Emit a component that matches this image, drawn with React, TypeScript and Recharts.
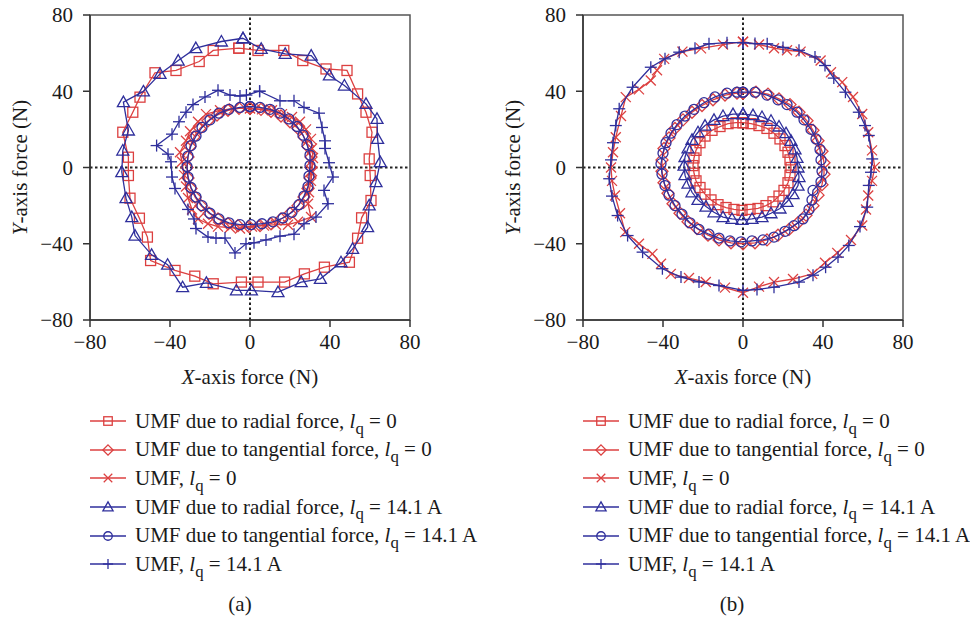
import React from "react";
import {
  ScatterChart,
  Scatter,
  XAxis,
  YAxis,
  ReferenceLine,
  ReferenceArea,
  Label,
} from "recharts";

const RED = "#dc4040";
const BLUE = "#2f2f9c";
const AXIS = "#333333";
const TEXT = "#1a1a1a";
const SERIF = "'Liberation Serif', 'Times New Roman', serif";
const FS = 21;

type P = { x: number; y: number };

const axisTicks = [-80, -40, 0, 40, 80];
const axisDomain: [number, number] = [-80, 80];

// ---- Panel (a) ----
const aRadial0: P[] = [
  { x: -5.6, y: 62.6 }, { x: 4.0, y: 61.4 }, { x: 16.9, y: 61.4 }, { x: 26.4, y: 56.1 },
  { x: 38.0, y: 51.7 }, { x: 48.5, y: 50.9 }, { x: 53.8, y: 38.6 }, { x: 58.0, y: 29.0 },
  { x: 61.0, y: 18.5 }, { x: 59.6, y: 4.5 }, { x: 60.1, y: -4.2 }, { x: 60.5, y: -17.3 },
  { x: 55.8, y: -26.4 }, { x: 53.8, y: -37.1 }, { x: 49.7, y: -49.7 }, { x: 37.2, y: -52.3 },
  { x: 27.2, y: -55.8 }, { x: 17.3, y: -60.1 }, { x: 4.0, y: -60.1 }, { x: -4.3, y: -60.1 },
  { x: -18.4, y: -61.0 }, { x: -27.6, y: -57.0 }, { x: -37.5, y: -54.0 }, { x: -49.7, y: -48.8 },
  { x: -51.3, y: -36.5 }, { x: -55.3, y: -26.6 }, { x: -60.0, y: -16.1 }, { x: -60.8, y: -4.2 },
  { x: -60.8, y: 5.4 }, { x: -63.6, y: 18.5 }, { x: -58.6, y: 29.0 }, { x: -55.0, y: 36.9 },
  { x: -47.5, y: 49.7 }, { x: -37.0, y: 50.9 }, { x: -25.4, y: 55.6 }, { x: -18.4, y: 61.4 },
];

const aTang0: P[] = [
  { x: 0, y: 31 }, { x: 5.5, y: 30.5 }, { x: 10.5, y: 29.5 }, { x: 15.5, y: 27 },
  { x: 20, y: 24 }, { x: 24, y: 20.5 }, { x: 27, y: 16 }, { x: 29, y: 11 },
  { x: 30.5, y: 5.5 }, { x: 30.5, y: 0 }, { x: 30, y: -5.5 }, { x: 29, y: -11 },
  { x: 27, y: -15.5 }, { x: 24, y: -20 }, { x: 20, y: -24 }, { x: 15.5, y: -27 },
  { x: 10.5, y: -29.5 }, { x: 5, y: -30.5 }, { x: -0.5, y: -31 }, { x: -6, y: -30.5 },
  { x: -11, y: -29.5 }, { x: -16, y: -27 }, { x: -20.5, y: -24 }, { x: -24.5, y: -20 },
  { x: -27.5, y: -15.5 }, { x: -29.5, y: -11 }, { x: -31, y: -5.5 }, { x: -31.5, y: 0 },
  { x: -31, y: 5.5 }, { x: -30, y: 11 }, { x: -28, y: 16 }, { x: -25, y: 20.5 },
  { x: -21, y: 24.5 }, { x: -16.5, y: 27.5 }, { x: -11, y: 30 }, { x: -5.5, y: 31 },
];

const aUmf0: P[] = [
  { x: 0, y: 31 }, { x: 6, y: 30.5 }, { x: 11, y: 30 }, { x: 16, y: 28 },
  { x: 21, y: 26.5 }, { x: 25, y: 24 }, { x: 28, y: 20 }, { x: 30.5, y: 15 },
  { x: 31, y: 10 }, { x: 31.5, y: 5 }, { x: 31, y: -2 }, { x: 30.5, y: -7 },
  { x: 29.5, y: -13 }, { x: 29, y: -19 }, { x: 30.5, y: -26 }, { x: 24, y: -28.5 },
  { x: 19, y: -30 }, { x: 13, y: -30 }, { x: 7, y: -30.5 }, { x: 1, y: -31 },
  { x: -5, y: -32 }, { x: -10, y: -31.5 }, { x: -16, y: -31 }, { x: -21, y: -29.5 },
  { x: -26, y: -27 }, { x: -29, y: -22 }, { x: -31, y: -16 }, { x: -32, y: -10 },
  { x: -33, y: -4 }, { x: -34, y: 3 }, { x: -35, y: 8 }, { x: -32, y: 14 },
  { x: -30, y: 19 }, { x: -26, y: 24 }, { x: -22, y: 28 }, { x: -15, y: 30 },
  { x: -8, y: 31 },
];

const aRadial14: P[] = [
  { x: -3.5, y: 67.8 }, { x: 5.6, y: 62.2 }, { x: 17.6, y: 59.6 }, { x: 30.6, y: 58.7 },
  { x: 39.7, y: 48.3 }, { x: 47.2, y: 43.0 }, { x: 58.0, y: 33.4 }, { x: 63.5, y: 25.5 },
  { x: 63.8, y: 15.0 }, { x: 65.1, y: 2.8 }, { x: 63.0, y: -7.7 }, { x: 59.6, y: -19.9 },
  { x: 58.8, y: -31.3 }, { x: 51.3, y: -42.7 }, { x: 45.5, y: -49.7 }, { x: 35.2, y: -58.4 },
  { x: 25.6, y: -60.1 }, { x: 14.0, y: -65.4 }, { x: 0.7, y: -64.5 }, { x: -6.8, y: -64.5 },
  { x: -21.8, y: -60.5 }, { x: -33.7, y: -62.8 }, { x: -41.2, y: -51.0 }, { x: -49.2, y: -45.8 },
  { x: -57.5, y: -35.7 }, { x: -59.1, y: -26.0 }, { x: -62.0, y: -16.1 }, { x: -64.1, y: -2.4 },
  { x: -63.6, y: 8.9 }, { x: -60.8, y: 19.4 }, { x: -63.3, y: 34.3 }, { x: -53.3, y: 39.9 },
  { x: -45.0, y: 49.1 }, { x: -35.9, y: 56.1 }, { x: -27.1, y: 62.6 }, { x: -14.3, y: 66.1 },
];

const aTang14: P[] = [
  { x: 0, y: 32 }, { x: 5, y: 31.5 }, { x: 10, y: 30.5 }, { x: 15, y: 28.5 },
  { x: 19.5, y: 25.5 }, { x: 23.5, y: 21.5 }, { x: 26.5, y: 17 }, { x: 28.5, y: 12 },
  { x: 30, y: 6.5 }, { x: 30, y: 1 }, { x: 29.5, y: -4.5 }, { x: 29, y: -10 },
  { x: 27, y: -15 }, { x: 24.5, y: -19.5 }, { x: 21, y: -23.5 }, { x: 16.5, y: -26.5 },
  { x: 11.5, y: -28.5 }, { x: 6, y: -29.5 }, { x: 0.5, y: -30 }, { x: -5, y: -30 },
  { x: -10.5, y: -29 }, { x: -15.5, y: -27 }, { x: -20, y: -24 }, { x: -24, y: -20 },
  { x: -27, y: -15.5 }, { x: -29.5, y: -10.5 }, { x: -31, y: -5 }, { x: -31.5, y: 0.5 },
  { x: -31, y: 6 }, { x: -29.5, y: 11.5 }, { x: -27, y: 16.5 }, { x: -24, y: 21 },
  { x: -20, y: 25 }, { x: -15.5, y: 28.5 }, { x: -10.5, y: 30.5 }, { x: -5, y: 31.5 },
];

const aUmf14: P[] = [
  { x: 4.8, y: 40 }, { x: 15, y: 35 }, { x: 22, y: 35 }, { x: 27, y: 31.5 },
  { x: 34.5, y: 28.5 }, { x: 36, y: 21 }, { x: 37.5, y: 14 }, { x: 37.5, y: 10 },
  { x: 39.5, y: 2.5 }, { x: 41.5, y: -5 }, { x: 37, y: -12 }, { x: 39, y: -19 },
  { x: 33, y: -26 }, { x: 27, y: -29.5 }, { x: 22, y: -35 }, { x: 15, y: -36 },
  { x: 8, y: -38 }, { x: 2, y: -39.5 }, { x: -2, y: -40 }, { x: -7.5, y: -44.8 },
  { x: -12.5, y: -37 }, { x: -17, y: -37 }, { x: -21, y: -36.5 }, { x: -27, y: -32 },
  { x: -28, y: -27 }, { x: -31, y: -22 }, { x: -37.5, y: -11 }, { x: -39, y: -5 },
  { x: -39.5, y: 3 }, { x: -41, y: 7 }, { x: -46.7, y: 11.5 }, { x: -39, y: 17.5 },
  { x: -35.5, y: 24 }, { x: -32, y: 29 }, { x: -28.5, y: 33 }, { x: -22.5, y: 37 },
  { x: -16, y: 40.5 }, { x: -10, y: 38 }, { x: -5, y: 37.5 }, { x: -1.8, y: 38 },
];

// ---- Panel (b) ----
const bRadial0: P[] = [
  { x: 0, y: 23.5 }, { x: 4, y: 23 }, { x: 8, y: 22 }, { x: 12, y: 20.5 },
  { x: 15.5, y: 18 }, { x: 18.5, y: 15 }, { x: 21, y: 11.5 }, { x: 22.5, y: 8 },
  { x: 23.5, y: 4 }, { x: 24, y: 0 }, { x: 23.5, y: -4 }, { x: 22.5, y: -8 },
  { x: 20.5, y: -12 }, { x: 18, y: -15 }, { x: 15, y: -18 }, { x: 11.5, y: -20 },
  { x: 7.5, y: -21.5 }, { x: 3.5, y: -22 }, { x: -0.5, y: -22.5 }, { x: -4.5, y: -22 },
  { x: -8.5, y: -21 }, { x: -12.5, y: -19.5 }, { x: -16, y: -17 }, { x: -19, y: -14 },
  { x: -21.5, y: -10.5 }, { x: -23.5, y: -7 }, { x: -24.5, y: -3 }, { x: -25, y: 1 },
  { x: -24.5, y: 5 }, { x: -23.5, y: 9 }, { x: -21.5, y: 13 }, { x: -19, y: 16.5 },
  { x: -15.5, y: 19.5 }, { x: -11.5, y: 21.5 }, { x: -7.5, y: 23 }, { x: -3.5, y: 23.5 },
];

const bTang0: P[] = [
  { x: 0, y: 39 }, { x: 6.5, y: 39.5 }, { x: 12.5, y: 38.5 }, { x: 18, y: 36 },
  { x: 23.5, y: 33 }, { x: 28, y: 29 }, { x: 32, y: 24.5 }, { x: 35, y: 19.5 },
  { x: 37.5, y: 14 }, { x: 39.5, y: 8.5 }, { x: 40.5, y: 2.5 }, { x: 40.5, y: -3.5 },
  { x: 39.5, y: -9 }, { x: 37.5, y: -14.5 }, { x: 35, y: -20 }, { x: 31.5, y: -25 },
  { x: 27.5, y: -29 }, { x: 23, y: -32.5 }, { x: 17.5, y: -35.5 }, { x: 12, y: -38 },
  { x: 6, y: -39.5 }, { x: 0, y: -40 }, { x: -6, y: -39.5 }, { x: -12, y: -38 },
  { x: -17.5, y: -35.5 }, { x: -23, y: -32 }, { x: -27.5, y: -28.5 }, { x: -31.5, y: -24 },
  { x: -35, y: -19 }, { x: -37.5, y: -13.5 }, { x: -39.5, y: -8 }, { x: -40.5, y: -2 },
  { x: -40.5, y: 4 }, { x: -39.5, y: 10 }, { x: -37, y: 15.5 }, { x: -34, y: 20.5 },
  { x: -30, y: 25 }, { x: -25.5, y: 29 }, { x: -20.5, y: 32.5 }, { x: -15, y: 35.5 },
  { x: -9, y: 38 }, { x: -3, y: 39 },
];

const bUmf0: P[] = [
  { x: 0, y: 66 }, { x: 8, y: 64.5 }, { x: 15.5, y: 62.6 }, { x: 22, y: 61.5 },
  { x: 28.8, y: 60.8 }, { x: 38.8, y: 56.1 }, { x: 44, y: 50 }, { x: 49.6, y: 44.8 },
  { x: 55, y: 37 }, { x: 59.6, y: 28.1 }, { x: 62.6, y: 18.5 }, { x: 64.5, y: 9 },
  { x: 65.9, y: 0.2 }, { x: 64.5, y: -7 }, { x: 62.6, y: -14.7 }, { x: 61.5, y: -22 },
  { x: 59.6, y: -30.4 }, { x: 54, y: -38 }, { x: 47.1, y: -44.8 }, { x: 41, y: -50 },
  { x: 34.6, y: -55.8 }, { x: 25, y: -58.5 }, { x: 15.5, y: -60.1 }, { x: 8, y: -62.5 },
  { x: 0, y: -65.7 }, { x: -9, y: -63 }, { x: -18.6, y: -60.1 }, { x: -27, y: -58 },
  { x: -36.1, y: -55.8 }, { x: -41, y: -50.5 }, { x: -45.3, y: -45.3 }, { x: -52, y: -40 },
  { x: -58.9, y: -33.9 }, { x: -61.5, y: -24 }, { x: -64, y: -14.7 }, { x: -65.5, y: -7 },
  { x: -66, y: 0 }, { x: -65, y: 8 }, { x: -63.6, y: 15.9 }, { x: -61, y: 27 },
  { x: -58.6, y: 36.9 }, { x: -52, y: 41 }, { x: -46.1, y: 45.6 }, { x: -43, y: 51 },
  { x: -39.4, y: 57 }, { x: -30.3, y: 60.8 }, { x: -21, y: 62.5 }, { x: -10, y: 64.5 },
];

const bRadial14: P[] = [
  { x: 0, y: 28 }, { x: 5, y: 27.5 }, { x: 9.5, y: 26.5 }, { x: 14, y: 24.5 },
  { x: 18, y: 21.5 }, { x: 21.5, y: 18 }, { x: 24, y: 14 }, { x: 26, y: 9.5 },
  { x: 27, y: 5 }, { x: 27.5, y: 0 }, { x: 28, y: -5 }, { x: 27.5, y: -9.5 },
  { x: 25, y: -14 }, { x: 22, y: -18 }, { x: 18.5, y: -21.5 }, { x: 14, y: -24 },
  { x: 9.5, y: -26 }, { x: 4.5, y: -27 }, { x: -0.5, y: -27.5 }, { x: -5.5, y: -27 },
  { x: -10, y: -26 }, { x: -14.5, y: -23.5 }, { x: -18.5, y: -20.5 }, { x: -22.5, y: -17 },
  { x: -25.5, y: -13 }, { x: -27.5, y: -8.5 }, { x: -29, y: -4 }, { x: -29.5, y: 1 },
  { x: -29, y: 5.5 }, { x: -27.5, y: 10 }, { x: -25.5, y: 14.5 }, { x: -22.5, y: 18.5 },
  { x: -19, y: 22 }, { x: -14.5, y: 25 }, { x: -10, y: 27 }, { x: -5, y: 28 },
];

const bTang14: P[] = [
  { x: 0, y: 39.5 }, { x: 6, y: 39.5 }, { x: 12, y: 38 }, { x: 17.5, y: 35.5 },
  { x: 22, y: 33 }, { x: 27, y: 29 }, { x: 30.5, y: 25 }, { x: 34, y: 20 },
  { x: 36.5, y: 15 }, { x: 38.5, y: 9.5 }, { x: 39, y: 4 }, { x: 39.5, y: -2 },
  { x: 39, y: -7.5 }, { x: 35, y: -12 }, { x: 34.5, y: -17 }, { x: 33, y: -22 },
  { x: 30, y: -27 }, { x: 25.5, y: -30.5 }, { x: 21, y: -33.5 }, { x: 15.5, y: -36.5 },
  { x: 10, y: -38 }, { x: 4.5, y: -38.5 }, { x: -1, y: -39 }, { x: -6.5, y: -38.5 },
  { x: -12, y: -37 }, { x: -17, y: -35 }, { x: -22, y: -32.5 }, { x: -26.5, y: -29 },
  { x: -30.5, y: -24.5 }, { x: -34, y: -20 }, { x: -37, y: -14.5 }, { x: -39, y: -9.5 },
  { x: -40.5, y: -3.5 }, { x: -41, y: 2 }, { x: -40, y: 7.5 }, { x: -38.5, y: 13 },
  { x: -36, y: 18 }, { x: -33, y: 22.5 }, { x: -29, y: 27 }, { x: -24.5, y: 30.5 },
  { x: -19.5, y: 34 }, { x: -14, y: 37 }, { x: -8, y: 39 }, { x: -3, y: 39.5 },
];

const bUmf14: P[] = [
  { x: 0, y: 65.5 }, { x: 6, y: 65 }, { x: 12.1, y: 64.9 }, { x: 20, y: 63 },
  { x: 28, y: 61.5 }, { x: 36, y: 58 }, { x: 41, y: 53.5 }, { x: 45.4, y: 46.9 },
  { x: 51.2, y: 39.5 }, { x: 57.9, y: 29 }, { x: 61, y: 22 }, { x: 62.9, y: 16.8 },
  { x: 64.6, y: 4.5 }, { x: 64, y: -2.5 }, { x: 62.9, y: -9.4 }, { x: 62.1, y: -20.8 },
  { x: 58.5, y: -31 }, { x: 52.9, y: -40.9 }, { x: 47.5, y: -47 }, { x: 41.3, y: -52.3 },
  { x: 35, y: -56.5 }, { x: 28, y: -60.1 }, { x: 15.5, y: -62.8 }, { x: 7, y: -64 },
  { x: 0, y: -64.5 }, { x: -12, y: -61.9 }, { x: -22, y: -60 }, { x: -31, y: -57.5 },
  { x: -40.3, y: -53.1 }, { x: -50.2, y: -44.4 }, { x: -57.7, y: -35.7 }, { x: -62.7, y: -25.2 },
  { x: -65.5, y: -15 }, { x: -66.9, y: -5.9 }, { x: -66, y: 4 }, { x: -65, y: 13 },
  { x: -63.6, y: 22 }, { x: -61.9, y: 30.8 }, { x: -55.2, y: 42.1 }, { x: -46.1, y: 52.6 },
  { x: -39, y: 57 }, { x: -31.9, y: 60.5 }, { x: -24, y: 62.5 }, { x: -17, y: 64.9 },
  { x: -8, y: 65.5 },
];

const legendLabels = [
  { head: "UMF due to radial force, ", tail: " = 0" },
  { head: "UMF due to tangential force, ", tail: " = 0" },
  { head: "UMF, ", tail: " = 0" },
  { head: "UMF due to radial force, ", tail: " = 14.1 A" },
  { head: "UMF due to tangential force, ", tail: " = 14.1 A" },
  { head: "UMF, ", tail: " = 14.1 A" },
];

type Kind = "square" | "diamond" | "x" | "triangle" | "circle" | "plus";
const legendKinds: Kind[] = ["square", "diamond", "x", "triangle", "circle", "plus"];
const legendColors = [RED, RED, RED, BLUE, BLUE, BLUE];

const closeLoop = (arr: P[]) => [...arr, arr[0]];

function Marker({ kind, cx, cy, color, s = 1 }: { kind: Kind; cx: number; cy: number; color: string; s?: number }) {
  const sw = 1.3;
  if (cx == null || cy == null || isNaN(cx) || isNaN(cy)) return null;
  switch (kind) {
    case "square":
      return <rect x={cx - 5 * s} y={cy - 5 * s} width={10 * s} height={10 * s} fill="none" stroke={color} strokeWidth={sw} />;
    case "diamond":
      return (
        <polygon
          points={`${cx},${cy - 6 * s} ${cx + 6 * s},${cy} ${cx},${cy + 6 * s} ${cx - 6 * s},${cy}`}
          fill="none" stroke={color} strokeWidth={sw}
        />
      );
    case "x":
      return (
        <g stroke={color} strokeWidth={sw}>
          <line x1={cx - 5 * s} y1={cy - 5 * s} x2={cx + 5 * s} y2={cy + 5 * s} />
          <line x1={cx - 5 * s} y1={cy + 5 * s} x2={cx + 5 * s} y2={cy - 5 * s} />
        </g>
      );
    case "triangle":
      return (
        <polygon
          points={`${cx},${cy - 6 * s} ${cx + 6 * s},${cy + 4.5 * s} ${cx - 6 * s},${cy + 4.5 * s}`}
          fill="none" stroke={color} strokeWidth={sw}
        />
      );
    case "circle":
      return <circle cx={cx} cy={cy} r={5 * s} fill="none" stroke={color} strokeWidth={sw} />;
    case "plus":
    default:
      return (
        <g stroke={color} strokeWidth={sw}>
          <line x1={cx - 6 * s} y1={cy} x2={cx + 6 * s} y2={cy} />
          <line x1={cx} y1={cy - 6 * s} x2={cx} y2={cy + 6 * s} />
        </g>
      );
  }
}

const fmt = (v: number) => (v < 0 ? `\u2212${Math.abs(v)}` : `${v}`);

const XTitle = (props: any) => {
  const vb = props.viewBox || { x: 90, y: 320, width: 320, height: 60 };
  return (
    <text x={vb.x + vb.width / 2} y={vb.y + 64} textAnchor="middle" fontFamily={SERIF} fontSize={FS} fill={TEXT}>
      <tspan fontStyle="italic">X</tspan>
      <tspan>-axis force (N)</tspan>
    </text>
  );
};

const YTitle = (props: any) => {
  const vb = props.viewBox || { x: 30, y: 15, width: 60, height: 305 };
  const cx = 20;
  const cy = vb.y + vb.height / 2;
  return (
    <text
      x={cx} y={cy} textAnchor="middle" dominantBaseline="central"
      transform={`rotate(-90, ${cx}, ${cy})`} fontFamily={SERIF} fontSize={FS} fill={TEXT}
    >
      <tspan fontStyle="italic">Y</tspan>
      <tspan>-axis force (N)</tspan>
    </text>
  );
};

type Series = { data: P[]; kind: Kind; color: string; name: string };

function Panel({ series }: { series: Series[] }) {
  return (
    <ScatterChart width={440} height={400} margin={{ top: 15, right: 30, bottom: 20, left: 30 }}>
      <XAxis
        type="number" dataKey="x" domain={axisDomain} ticks={axisTicks} interval={0}
        allowDataOverflow height={60} tickSize={7} tickMargin={7}
        axisLine={{ stroke: AXIS, strokeWidth: 1.5 }} tickLine={{ stroke: AXIS, strokeWidth: 1.5 }}
        tick={{ fill: TEXT, fontSize: FS, fontFamily: SERIF }} tickFormatter={fmt}
      >
        <Label content={<XTitle />} />
      </XAxis>
      <YAxis
        type="number" dataKey="y" domain={axisDomain} ticks={axisTicks} interval={0}
        allowDataOverflow width={60} tickSize={7} tickMargin={10}
        axisLine={{ stroke: AXIS, strokeWidth: 1.5 }} tickLine={{ stroke: AXIS, strokeWidth: 1.5 }}
        tick={{ fill: TEXT, fontSize: FS, fontFamily: SERIF }} tickFormatter={fmt}
      >
        <Label content={<YTitle />} />
      </YAxis>
      <ReferenceArea x1={-80} x2={80} y1={-80} y2={80} fill="none" fillOpacity={0} stroke="#555" strokeWidth={1.5} />
      <ReferenceLine x={0} stroke="#222" strokeWidth={2} strokeDasharray="2.5 2.5" />
      <ReferenceLine y={0} stroke="#222" strokeWidth={2} strokeDasharray="2.5 2.5" />
      {series.map((s) => (
        <Scatter
          key={s.name}
          name={s.name}
          data={closeLoop(s.data)}
          fill="none"
          stroke={s.color}
          line={{ stroke: s.color, strokeWidth: 1.3 }}
          lineType="joint"
          isAnimationActive={false}
          shape={(p: any) => <Marker kind={s.kind} cx={p.cx} cy={p.cy} color={s.color} />}
        />
      ))}
    </ScatterChart>
  );
}

function LegendBlock({ left }: { left: number }) {
  return (
    <div style={{ position: "absolute", left, top: 407, fontFamily: SERIF, fontSize: FS, color: TEXT }}>
      {legendLabels.map((l, i) => (
        <div key={i} style={{ display: "flex", alignItems: "center", height: 28.6, whiteSpace: "nowrap" }}>
          <svg width={36} height={20} style={{ flex: "none" }}>
            <line x1={0} y1={10} x2={36} y2={10} stroke={legendColors[i]} strokeWidth={1.3} />
            <Marker kind={legendKinds[i]} cx={18} cy={10} color={legendColors[i]} s={0.85} />
          </svg>
          <span style={{ marginLeft: 9 }}>
            {l.head}
            <i>l</i>
            <span style={{ fontSize: "0.8em", position: "relative", top: "0.35em" }}>q</span>
            {l.tail}
          </span>
        </div>
      ))}
    </div>
  );
}

export default function App() {
  const seriesA: Series[] = [
    { data: aRadial0, kind: "square", color: RED, name: "a-radial-0" },
    { data: aTang0, kind: "diamond", color: RED, name: "a-tang-0" },
    { data: aUmf0, kind: "x", color: RED, name: "a-umf-0" },
    { data: aRadial14, kind: "triangle", color: BLUE, name: "a-radial-14" },
    { data: aTang14, kind: "circle", color: BLUE, name: "a-tang-14" },
    { data: aUmf14, kind: "plus", color: BLUE, name: "a-umf-14" },
  ];
  const seriesB: Series[] = [
    { data: bRadial0, kind: "square", color: RED, name: "b-radial-0" },
    { data: bTang0, kind: "diamond", color: RED, name: "b-tang-0" },
    { data: bUmf0, kind: "x", color: RED, name: "b-umf-0" },
    { data: bRadial14, kind: "triangle", color: BLUE, name: "b-radial-14" },
    { data: bTang14, kind: "circle", color: BLUE, name: "b-tang-14" },
    { data: bUmf14, kind: "plus", color: BLUE, name: "b-umf-14" },
  ];
  return (
    <div style={{ position: "absolute", left: 0, top: 0, width: 970, height: 626, background: "#fff", overflow: "hidden" }}>
      <div style={{ position: "absolute", left: 0, top: 0 }}>
        <Panel series={seriesA} />
      </div>
      <div style={{ position: "absolute", left: 493, top: 0 }}>
        <Panel series={seriesB} />
      </div>
      <LegendBlock left={90} />
      <LegendBlock left={583} />
      <div style={{ position: "absolute", left: 200, width: 80, top: 592, textAlign: "center", fontFamily: SERIF, fontSize: FS, color: TEXT }}>(a)</div>
      <div style={{ position: "absolute", left: 692, width: 80, top: 592, textAlign: "center", fontFamily: SERIF, fontSize: FS, color: TEXT }}>(b)</div>
    </div>
  );
}
